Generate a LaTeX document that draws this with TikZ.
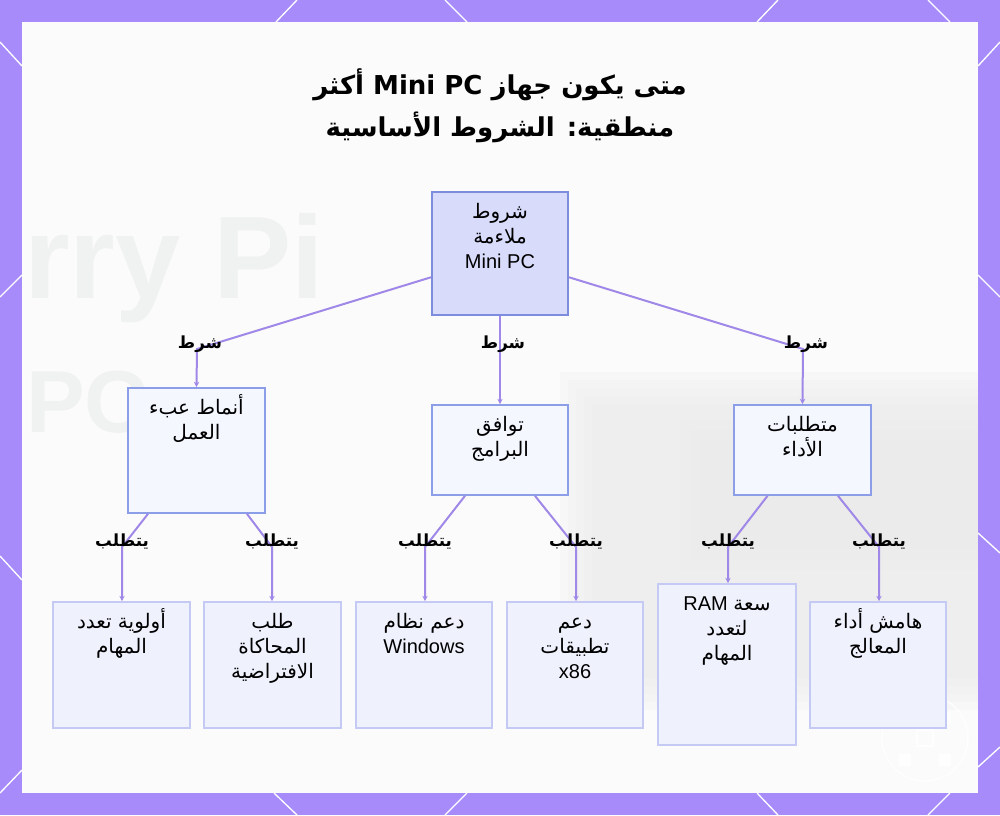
\documentclass[tikz,border=0pt]{standalone}
\usepackage{fontspec}
\setmainfont{Liberation Sans}
\newfontfamily\arabicfont[Script=Arabic]{DejaVu Sans}
\TeXXeTstate=1
\usetikzlibrary{arrows.meta,calc}
\definecolor{frame}{HTML}{A78BFA}
\definecolor{inner}{HTML}{FBFBFB}
\definecolor{edgec}{HTML}{9F88E8}
\definecolor{rootfill}{HTML}{D8DBFA}
\definecolor{rootdraw}{HTML}{7E8CDD}
\definecolor{midfill}{HTML}{F5F7FF}
\definecolor{middraw}{HTML}{8C9EE8}
\definecolor{leaffill}{HTML}{EFF1FD}
\definecolor{leafdraw}{HTML}{C5CAF5}
\definecolor{ghost}{HTML}{F0F1F1}
\definecolor{haze}{HTML}{E9EAEA}
\newcommand\AR[1]{{\arabicfont\beginR #1\endR}}
\newcommand\bx[3]{\parbox[c][#2][t]{#1}{\centering\fontsize{15}{18.75}\selectfont\rule{0pt}{20pt}#3\par}}
\tikzset{
  rootbox/.style={draw=rootdraw, fill=rootfill, line width=1.5pt, inner sep=0pt},
  midbox/.style={draw=middraw, fill=midfill, line width=1.3pt, inner sep=0pt},
  leafbox/.style={draw=leafdraw, fill=leaffill, line width=1.3pt, inner sep=0pt},
  edge/.style={draw=edgec, line width=1.5pt, -{Stealth[length=4pt,width=4pt]}},
  lbl/.style={inner sep=1pt, text=black, font=\fontsize{12.5}{14}\selectfont\bfseries},
  deco/.style={draw=white, line width=1pt},
  ghosttext/.style={anchor=west, text=ghost, font=\fontsize{88}{90}\selectfont\bfseries, inner sep=0pt},
}
\begin{document}
\begin{tikzpicture}[x=0.75pt,y=-0.75pt]
\useasboundingbox (0,0) rectangle (1000,815);
% frame
\fill[frame] (0,0) rectangle (1000,815);
\draw[deco] (297,0) -- (276,22);
\draw[deco] (445,0) -- (467,22);
\draw[deco] (778,0) -- (757,22);
\draw[deco] (928,0) -- (950,22);
\draw[deco] (274,793) -- (297,815);
\draw[deco] (467,793) -- (445,815);
\draw[deco] (757,793) -- (778,815);
\draw[deco] (950,793) -- (928,815);
\draw[deco] (0,42) -- (22,66);
\draw[deco] (0,297) -- (22,275);
\draw[deco] (0,556) -- (22,580);
\draw[deco] (0,793) -- (22,770);
\draw[deco] (978,66) -- (1000,42);
\draw[deco] (978,275) -- (1000,297);
\draw[deco] (978,533) -- (1000,553);
\draw[deco] (978,767) -- (1000,747);
\fill[inner] (22,22) rectangle (978,793);
% faint blurred background photo
\begin{scope}
\clip (22,22) rectangle (978,793);
\foreach \d in {0,8,16,24,32} \fill[haze, opacity=0.18] (560+\d,372+\d) rectangle (978,710-\d);
\foreach \d in {0,10,20} \fill[haze, opacity=0.15] (680+\d,420+\d) rectangle (978,570-\d);
\node[ghosttext] (ghost1) at (24,268) {rry Pi};
\node[ghosttext, font=\fontsize{66}{68}\selectfont\bfseries] (ghost2) at (26,402) {PC};
\draw[white, line width=1pt, opacity=0.9] (925,738) circle (43);
\foreach \px/\py in {905/718,945/718,905/760,945/760} \fill[white, opacity=0.8] (\px-6,\py-6) rectangle (\px+6,\py+6);
\draw[white, line width=2pt, opacity=0.9] (917,730) rectangle (933,746);
\end{scope}
% title
\node[font=\arabicfont\fontsize{19.5}{31.5}\selectfont\bfseries, align=center] (title) at (500,106)
  {\beginR متى يكون جهاز \beginL Mini PC\endL{} أكثر\endR\\ \beginR منطقية: الشروط الأساسية\endR};
% nodes
\node[rootbox] (root) at (500,253.5) {\bx{102pt}{92.25pt}{\AR{شروط}\\ \AR{ملاءمة}\\ Mini PC}};
\node[midbox] (wl) at (196.5,450.5) {\bx{102.75pt}{93.75pt}{\AR{أنماط عبء}\\ \AR{العمل}}};
\node[midbox] (sw) at (500,450) {\bx{102pt}{67.5pt}{\AR{توافق}\\ \AR{البرامج}}};
\node[midbox] (pf) at (802.5,450) {\bx{102.75pt}{67.5pt}{\AR{متطلبات}\\ \AR{الأداء}}};
\node[leafbox] (c1) at (121.5,665) {\bx{102.75pt}{94.5pt}{\AR{أولوية تعدد}\\ \AR{المهام}}};
\node[leafbox] (c2) at (272.5,665) {\bx{102.75pt}{94.5pt}{\AR{طلب}\\ \AR{المحاكاة}\\ \AR{الافتراضية}}};
\node[leafbox] (c3) at (424,665) {\bx{102pt}{94.5pt}{\AR{دعم نظام}\\ Windows}};
\node[leafbox] (c4) at (575,665) {\bx{102pt}{94.5pt}{\AR{دعم}\\ \AR{تطبيقات}\\ x86}};
\node[leafbox] (c5) at (727,664.5) {\bx{103.5pt}{120.75pt}{\beginR{\arabicfont سعة} RAM\endR\\ \AR{لتعدد}\\ \AR{المهام}}};
\node[leafbox] (c6) at (878,665) {\bx{102pt}{94.5pt}{\AR{هامش أداء}\\ \AR{المعالج}}};
% bend points
\coordinate (b1) at (197,349);
\coordinate (b3) at (803,349);
\coordinate (k1) at (122,547);
\coordinate (k2) at (272,547);
\coordinate (k3) at (425,547);
\coordinate (k4) at (576,547);
\coordinate (k5) at (728,547);
\coordinate (k6) at (879,547);
% connectors
\draw[edge] (root.199) -- (b1) -- (wl.north);
\draw[edge] (root.south) -- (sw.north);
\draw[edge] (root.-19) -- (b3) -- (pf.north);
\draw[edge] ($(wl.south)+(-48.5,0)$) -- (k1) -- (c1.north -| k1);
\draw[edge] ($(wl.south)+(50.5,0)$) -- (k2) -- (c2.north -| k2);
\draw[edge] ($(sw.south)+(-35,0)$) -- (k3) -- (c3.north -| k3);
\draw[edge] ($(sw.south)+(35,0)$) -- (k4) -- (c4.north -| k4);
\draw[edge] ($(pf.south)+(-35,0)$) -- (k5) -- (c5.north -| k5);
\draw[edge] ($(pf.south)+(35.5,0)$) -- (k6) -- (c6.north -| k6);
% edge labels
\node[lbl] (s1) at (200,344) {\AR{شرط}};
\node[lbl] (s2) at (503,344) {\AR{شرط}};
\node[lbl] (s3) at (806,344) {\AR{شرط}};
\node[lbl] (r1) at (122,542) {\AR{يتطلب}};
\node[lbl] (r2) at (272,542) {\AR{يتطلب}};
\node[lbl] (r3) at (425,542) {\AR{يتطلب}};
\node[lbl] (r4) at (576,542) {\AR{يتطلب}};
\node[lbl] (r5) at (728,542) {\AR{يتطلب}};
\node[lbl] (r6) at (879,542) {\AR{يتطلب}};
\end{tikzpicture}
\end{document}
